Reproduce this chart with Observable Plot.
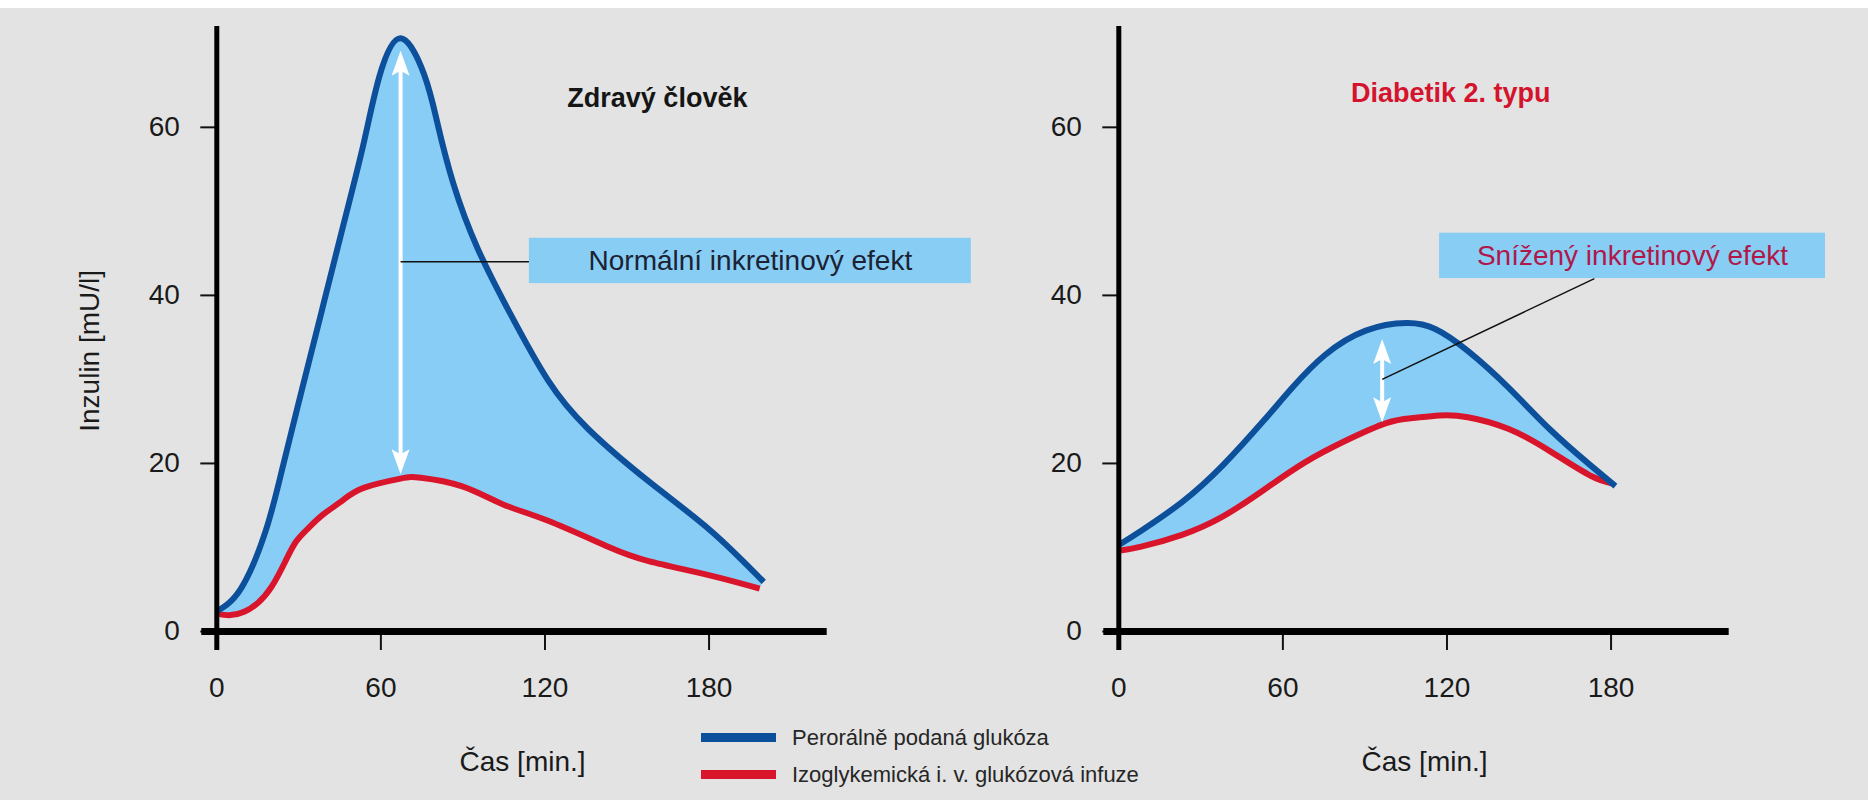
<!DOCTYPE html>
<html>
<head>
<meta charset="utf-8">
<script src="https://cdn.jsdelivr.net/npm/d3@7"></script>
<script src="https://cdn.jsdelivr.net/npm/@observablehq/plot@0.6"></script>
<style>
  html, body { margin: 0; padding: 0; background: #ffffff; }
  body { width: 1868px; height: 800px; position: relative; overflow: hidden;
         font-family: "Liberation Sans", Arial, sans-serif; }
  #sheet { position: absolute; left: 0; top: 8px; width: 1868px; height: 792px; background: #e3e3e3; }
  .panel { position: absolute; top: 0; }
  #legend { position: absolute; left: 701px; top: 719px; }
  #legend .row { display: flex; align-items: center; height: 37px; }
  #legend .swatch { width: 75px; height: 9px; margin-right: 16px; }
  #legend .name { font-size: 22px; color: #262626; white-space: nowrap; }
</style>
</head>
<body>
<div id="sheet"></div>
<div id="left" class="panel" style="left:0px"></div>
<div id="right" class="panel" style="left:902px"></div>
<div id="legend"></div>
<script>
// ---- data -------------------------------------------------------------
const xTicks = [0, 60, 120, 180];
const yTicks = [0, 20, 40, 60];
const xMax = 223.2;   // end of the time axis [min]
const yMax = 72;      // top of the insulin axis [mU/l]

const seriesNames = ["Perorálně podaná glukóza", "Izoglykemická i. v. glukózová infuze"];

// healthy subject: oral glucose
const oralHealthyTime = [0, 9.0, 17.9, 23.9, 31.3, 38.8, 46.3, 53.7, 59.4, 67.2, 75.8, 80.6, 86.5, 95.5, 107.5, 120.9, 135.8, 158.2, 180.6, 200];
const oralHealthy     = [2.4, 5.2, 12.0, 19.3, 29.0, 38.7, 48.4, 58.1, 66.0, 70.6, 66.3, 60.6, 53.3, 45.5, 37.7, 30.0, 24.1, 17.8, 12.0, 5.9];
// healthy subject: isoglycaemic i.v. infusion
const ivHealthyTime = [0, 5, 10, 15, 20, 25, 29, 33.5, 38.8, 46.0, 53.7, 67.2, 74.6, 89.5, 104.5, 120.9, 143.3, 158.2, 180.6, 198.5];
const ivHealthy     = [2.1, 1.95, 2.35, 3.4, 5.3, 8.3, 10.7, 12.3, 13.9, 15.6, 17.1, 18.2, 18.3, 17.3, 15.15, 13.2, 10.05, 8.35, 6.65, 5.1];

// type 2 diabetic: oral glucose
const oralDiabeticTime = [0, 8.2, 23.1, 38.1, 53.0, 63.4, 75.4, 90.3, 105.2, 115.7, 127.6, 142.6, 157.5, 172.4, 181.6];
const oralDiabetic     = [10.3, 12.0, 15.4, 19.8, 25.1, 29.0, 32.9, 35.8, 36.7, 36.0, 33.4, 29.0, 24.1, 19.8, 17.3];
// type 2 diabetic: isoglycaemic i.v. infusion
const ivDiabeticTime = [0, 8.2, 23.1, 38.1, 53.0, 67.9, 82.9, 97.8, 107.5, 117.2, 127.6, 142.6, 157.5, 172.4, 180.6];
const ivDiabetic     = [9.6, 10.1, 11.5, 13.7, 16.85, 20.1, 22.7, 24.8, 25.4, 25.7, 25.5, 24.1, 21.5, 18.55, 17.6];

// annotations, placed in [time, insulin] coordinates
const titleHealthy  = {label: "Zdravý člověk", t: 161.1, v: 63.5};
const titleDiabetic = {label: "Diabetik 2. typu", t: 121.4, v: 64.1};
const arrowHealthy  = {t: 67.2, low: 18.7, high: 69.1};
const arrowDiabetic = {t: 96.3, low: 24.9, high: 34.8};
const boxHealthy  = {label: "Normální inkretinový efekt", t1: 114.3, t2: 275.9, v1: 41.4, v2: 46.8};
const boxDiabetic = {label: "Snížený inkretinový efekt", t1: 117.3, t2: 258.4, v1: 42.0, v2: 47.4};
const leaderHealthy  = {t1: 67.2, v1: 44.0, t2: 114.3, v2: 44.0};
const leaderDiabetic = {t1: 96.3, v1: 30.0, t2: 173.9, v2: 42.0};
const yTitle = {label: "Inzulin [mU/l]", t: -46.5, v: 33.4};
const xTitle = {label: "Čas [min.]", t: 111.8, v: -15.5};

// ---- styles -----------------------------------------------------------
const FONT = '"Liberation Sans", Arial, sans-serif';
const BLUE = "#0c4f9b";
const RED = "#d9152b";
const FILL = "#88cdf5";
const BOX = "#88cdf4";
const CURVE = "natural";

// filled arrowhead with its tip at the origin, pointing up
const arrowHead = {
  draw(context) {
    context.moveTo(0, 0);
    context.lineTo(9, 25);
    context.lineTo(0, 20);
    context.lineTo(-9, 25);
    context.closePath();
  }
};

function drawPanel({oralTime, oral, ivTime, iv, title, titleColor, arrow, box, boxColor, leader, width, withYTitle}) {
  const oralRows = oralTime.map((t, i) => ({t, v: oral[i]}));
  const ivRows = ivTime.map((t, i) => ({t, v: iv[i]}));
  // band between the two responses (both series carry the same number of samples)
  const band = oralRows.map((d, i) => ({tTop: d.t, vTop: d.v, tBase: ivRows[i].t, vBase: ivRows[i].v}));
  return Plot.plot({
    width, height: 800,
    marginLeft: 216.3, marginTop: 26, marginBottom: 169, marginRight: width - 826.7,
    style: {background: "transparent", fontFamily: FONT, overflow: "visible"},
    x: {domain: [0, xMax]},
    y: {domain: [0, yMax]},
    marks: [
      Plot.area(band, {x1: "tBase", y1: "vBase", x2: "tTop", y2: "vTop", fill: FILL, curve: CURVE}),
      Plot.line(ivRows, {x: "t", y: "v", stroke: RED, strokeWidth: 6, curve: CURVE, strokeLinecap: "butt"}),
      Plot.line(oralRows, {x: "t", y: "v", stroke: BLUE, strokeWidth: 6, curve: CURVE, strokeLinecap: "butt"}),
      // double-headed effect arrow (shaft tucked inside both heads)
      Plot.ruleX([arrow], {x: "t", y1: "high", y2: "low", stroke: "white", strokeWidth: 4, insetTop: 18, insetBottom: 18}),
      Plot.dot([arrow], {x: "t", y: "high", symbol: arrowHead, r: 5, fill: "white", stroke: "none"}),
      Plot.dot([arrow], {x: "t", y: "low", symbol: arrowHead, r: 5, fill: "white", stroke: "none", rotate: 180}),
      // callout
      Plot.link([leader], {x1: "t1", y1: "v1", x2: "t2", y2: "v2", stroke: "#111", strokeWidth: 1.5}),
      Plot.rect([box], {x1: "t1", x2: "t2", y1: "v1", y2: "v2", fill: BOX}),
      Plot.text([box], {x: (d) => (d.t1 + d.t2) / 2, y: (d) => (d.v1 + d.v2) / 2, text: "label", fill: boxColor, fontSize: 28}),
      Plot.text([title], {x: "t", y: "v", text: "label", fill: titleColor, fontSize: 27, fontWeight: "bold"}),
      // axes
      Plot.axisY({ticks: yTicks, tickSize: 16, tickPadding: 21, fontSize: 28, strokeWidth: 2, stroke: "#111", fill: "#1a1a1a", label: null}),
      Plot.axisX({ticks: xTicks, tickSize: 19, tickPadding: 27, fontSize: 28, strokeWidth: 2, stroke: "#111", fill: "#1a1a1a", label: null}),
      Plot.ruleX([0], {y1: yMax, y2: 0, stroke: "#000", strokeWidth: 5, insetBottom: -19}),
      Plot.ruleY([0], {x1: 0, x2: xMax, stroke: "#000", strokeWidth: 7, insetLeft: -15}),
      Plot.text([xTitle], {x: "t", y: "v", text: "label", fill: "#1a1a1a", fontSize: 28}),
      withYTitle ? Plot.text([yTitle], {x: "t", y: "v", text: "label", fill: "#1a1a1a", fontSize: 28, rotate: -90}) : null
    ]
  });
}

document.getElementById("left").append(drawPanel({
  oralTime: oralHealthyTime, oral: oralHealthy, ivTime: ivHealthyTime, iv: ivHealthy,
  title: titleHealthy, titleColor: "#151515",
  arrow: arrowHealthy, box: boxHealthy, boxColor: "#1b2233", leader: leaderHealthy,
  width: 1000, withYTitle: true
}));

document.getElementById("right").append(drawPanel({
  oralTime: oralDiabeticTime, oral: oralDiabetic, ivTime: ivDiabeticTime, iv: ivDiabetic,
  title: titleDiabetic, titleColor: "#d4142c",
  arrow: arrowDiabetic, box: boxDiabetic, boxColor: "#b0184a", leader: leaderDiabetic,
  width: 966, withYTitle: false
}));

// legend
const legend = document.getElementById("legend");
[BLUE, RED].forEach((color, i) => {
  const row = document.createElement("div");
  row.className = "row";
  const sw = document.createElement("span");
  sw.className = "swatch";
  sw.style.background = color;
  const name = document.createElement("span");
  name.className = "name";
  name.textContent = seriesNames[i];
  row.append(sw, name);
  legend.append(row);
});
</script>
</body>
</html>
